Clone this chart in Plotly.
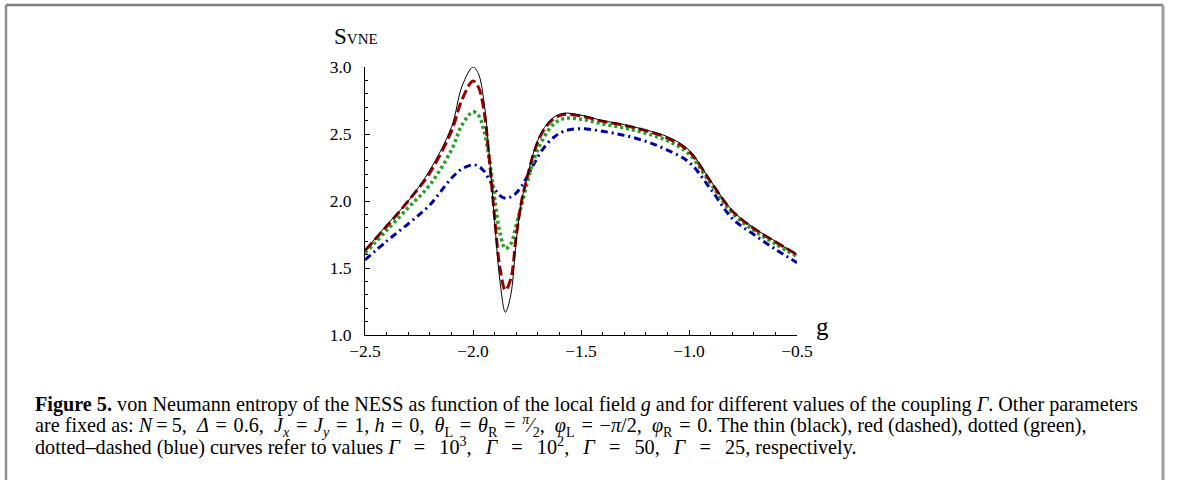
import plotly.graph_objects as go

# ---- data ----
g = [-2.5, -2.4, -2.3, -2.2, -2.1, -2.05, -2.0, -1.975, -1.95, -1.925, -1.9, -1.875,
     -1.85, -1.825, -1.8, -1.775, -1.75, -1.72, -1.68, -1.63, -1.58, -1.5, -1.4,
     -1.3, -1.2, -1.1, -1.0, -0.9, -0.8, -0.7, -0.6, -0.5]

s_gamma_1000 = [1.63, 1.82, 2.00, 2.23, 2.55, 2.86, 3.00, 2.95, 2.75, 2.35, 1.85, 1.40,
                1.17, 1.30, 1.70, 2.00, 2.17, 2.36, 2.52, 2.62, 2.655, 2.64, 2.60,
                2.57, 2.53, 2.48, 2.38, 2.15, 1.93, 1.80, 1.70, 1.60]

s_gamma_100 = [1.63, 1.81, 2.00, 2.21, 2.52, 2.76, 2.895, 2.85, 2.68, 2.32, 1.88, 1.50,
               1.335, 1.42, 1.74, 2.00, 2.17, 2.35, 2.51, 2.61, 2.645, 2.635, 2.595,
               2.565, 2.525, 2.47, 2.37, 2.145, 1.925, 1.795, 1.695, 1.60]

s_gamma_50 = [1.61, 1.78, 1.95, 2.12, 2.38, 2.57, 2.665, 2.64, 2.53, 2.32, 2.02, 1.76,
              1.645, 1.68, 1.82, 1.97, 2.13, 2.30, 2.45, 2.57, 2.615, 2.61, 2.575,
              2.545, 2.505, 2.45, 2.35, 2.13, 1.91, 1.78, 1.68, 1.585]

s_gamma_25 = [1.56, 1.70, 1.83, 1.97, 2.17, 2.24, 2.27, 2.26, 2.225, 2.16, 2.09, 2.04,
              2.02, 2.03, 2.06, 2.11, 2.18, 2.27, 2.38, 2.47, 2.52, 2.54, 2.52,
              2.49, 2.445, 2.38, 2.29, 2.09, 1.87, 1.75, 1.64, 1.54]

x_ticks = [-2.5, -2.0, -1.5, -1.0, -0.5]
y_ticks = [1.0, 1.5, 2.0, 2.5, 3.0]

EQ2 = "\u2004=\u2004"                    # spaced equals sign (line 2)
EQ3 = "\u2002\u2009=\u2002\u2009"        # wider spaced equals sign (line 3)
SP2 = "\u2002"
SP3 = "\u2002\u2009"
caption_lines = [
    "<b>Figure 5.</b> von Neumann entropy of the NESS as function of the local field <i>g</i> "
    "and for different values of the coupling <i>Γ</i>. Other parameters",
    f"are fixed as: <i>N</i>\u2009=\u20095,{SP2}<i>Δ</i>{EQ2}0.6,{SP2}<i>J<sub>x</sub></i>{EQ2}"
    f"<i>J<sub>y</sub></i>{EQ2}1, <i>h</i>{EQ2}0,{SP2}<i>θ</i><sub>L</sub>{EQ2}<i>θ</i><sub>R</sub>"
    f"{EQ2}<sup><i>π</i></sup>⁄<sub>2</sub>,{SP2}<i>φ</i><sub>L</sub>{EQ2}−<i>π</i>/2,{SP2}"
    f"<i>φ</i><sub>R</sub>{EQ2}0. The thin (black), red (dashed), dotted (green),",
    f"dotted–dashed (blue) curves refer to values <i>Γ</i>{EQ3}10<sup>3</sup>,{SP3}"
    f"<i>Γ</i>{EQ3}10<sup>2</sup>,{SP3}<i>Γ</i>{EQ3}50,{SP3}<i>Γ</i>{EQ3}25, respectively.",
]

# ---- layout geometry (pixels) ----
W, H = 1179, 480
PL, PR, PT, PB = 365, 797, 67, 335   # plot area edges


def px(xp):
    return (xp - PL) / (PR - PL)


def py(yp):
    return (PB - yp) / (PB - PT)


SERIF = "Liberation Serif"

fig = go.Figure()
fig.add_trace(go.Scatter(x=g, y=s_gamma_25, mode="lines", line_shape="spline",
                         line=dict(color="#0000a0", width=3, dash="7px,4px,2px,4px"),
                         name="Γ = 25"))
fig.add_trace(go.Scatter(x=g, y=s_gamma_50, mode="lines", line_shape="spline",
                         line=dict(color="#22a022", width=3.5, dash="3px,3px"),
                         name="Γ = 50"))
fig.add_trace(go.Scatter(x=g, y=s_gamma_100, mode="lines", line_shape="spline",
                         line=dict(color="#9e0000", width=3, dash="10px,4px"),
                         name="Γ = 100"))
fig.add_trace(go.Scatter(x=g, y=s_gamma_1000, mode="lines", line_shape="spline",
                         line=dict(color="black", width=1),
                         name="Γ = 1000"))

axis_common = dict(showline=True, linecolor="black", linewidth=1, showgrid=False,
                   zeroline=False, ticks="inside", ticklen=5, tickwidth=1, tickcolor="black",
                   tickfont=dict(family=SERIF, size=17.5, color="black"),
                   minor=dict(ticks="inside", ticklen=3, tickwidth=1, tickcolor="black",
                              dtick=0.1, showgrid=False))

fig.update_xaxes(range=[-2.5, -0.5], tickvals=x_ticks,
                 ticktext=[f"−{abs(v):.1f}" for v in x_ticks], ticklabelstandoff=0,
                 **axis_common)
fig.update_yaxes(range=[1.0, 3.0], tickvals=y_ticks,
                 ticktext=[f"{v:.1f}" for v in y_ticks], ticklabelstandoff=9,
                 **axis_common)

annotations = [
    dict(text="S<span style='font-size:15px'>VNE</span>", x=px(332), y=py(51),
         xref="paper", yref="paper", xanchor="left", yanchor="bottom", showarrow=False,
         font=dict(family=SERIF, size=23, color="black")),
    dict(text="g", x=px(814), y=py(326), xref="paper", yref="paper",
         xanchor="left", yanchor="middle", showarrow=False,
         font=dict(family=SERIF, size=25, color="black")),
]
for i, line in enumerate(caption_lines):
    annotations.append(dict(text=line, x=px(33), y=py(404 + 21 * i), xref="paper",
                            yref="paper", xanchor="left", yanchor="middle", showarrow=False,
                            align="left", font=dict(family=SERIF, size=20.2, color="black")))

shapes = [
    dict(type="line", xref="paper", yref="paper", x0=px(6), x1=px(1163), y0=py(5), y1=py(5),
         line=dict(color="#808080", width=2.5)),
    dict(type="line", xref="paper", yref="paper", x0=px(6), x1=px(6), y0=py(5), y1=py(481),
         line=dict(color="#909090", width=2.5)),
    dict(type="line", xref="paper", yref="paper", x0=px(1163), x1=px(1163), y0=py(5), y1=py(481),
         line=dict(color="#a0a0a0", width=3)),
]

fig.update_layout(width=W, height=H, autosize=False,
                  margin=dict(l=PL, r=W - PR, t=PT, b=H - PB, pad=0),
                  paper_bgcolor="white", plot_bgcolor="white", showlegend=False,
                  annotations=annotations, shapes=shapes)

fig.write_html("out.html", config={"displayModeBar": False})

# remove the browser's default 8px body margin so the figure sits at the page origin
with open("out.html", encoding="utf-8") as fh:
    html = fh.read()
html = html.replace("<body>", "<body style=\"margin:0;padding:0;\">", 1)
with open("out.html", "w", encoding="utf-8") as fh:
    fh.write(html)
